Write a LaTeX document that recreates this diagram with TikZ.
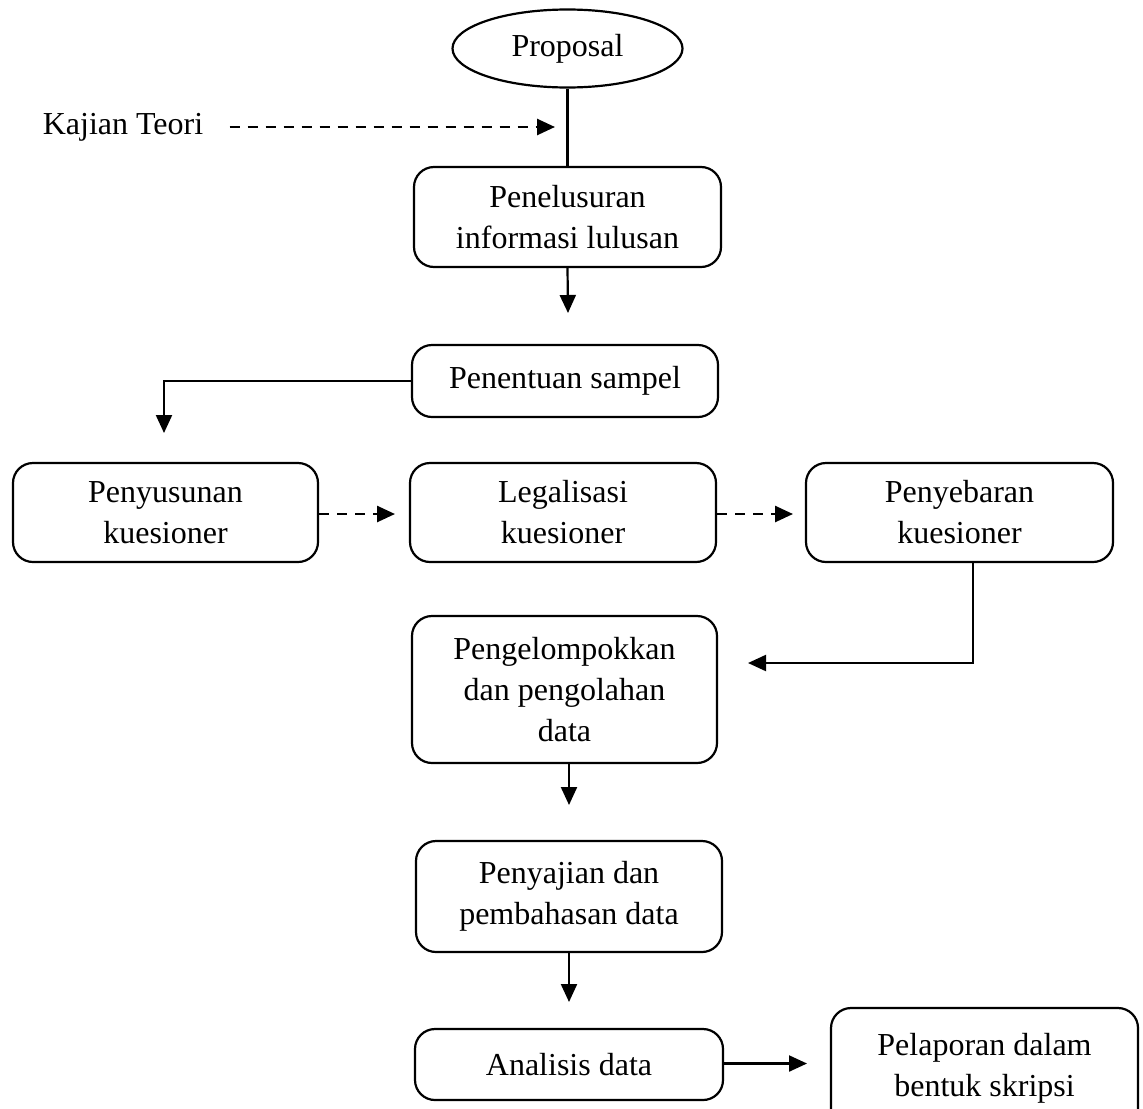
\documentclass[tikz,border=0pt]{standalone}
\usepackage{fontspec}
\setmainfont{Liberation Serif}
\usetikzlibrary{arrows.meta,shapes.geometric}
\begin{document}
\begin{tikzpicture}[x=0.5pt,y=-0.5pt,
  every node/.style={font=\fontsize{16}{20.5}\selectfont},
  line/.style={line width=1.1pt},
  box/.style={draw, line width=1.1pt, rounded corners=10pt, align=center, inner sep=0pt},
  arr/.style={line width=1.1pt, -{Triangle[length=9pt,width=8pt]}},
  darr/.style={line width=1.3pt, dash pattern=on 5pt off 4pt, -{Triangle[length=9pt,width=8pt]}}]
\clip (0,0) rectangle (1143,1108);
\fill[white] (0,0) rectangle (1143,1108);

\node[draw, ellipse, line width=1.1pt, inner sep=0pt, minimum width=115pt, minimum height=39pt] (prop) at (567.5,48.5) {Proposal};
\node[inner sep=0pt] (kaj) at (123,127) {Kajian Teori};
\coordinate (kt) at (555,127);
\node[box, minimum width=153.5pt, minimum height=50pt] (pen) at (567.5,217) {Penelusuran\\informasi lulusan};
\coordinate (a1) at (568,313);
\node[box, minimum width=153pt, minimum height=36pt] (samp) at (565,381) {Penentuan sampel};
\coordinate (c1) at (164,381);
\coordinate (a2) at (164,433);
\node[box, minimum width=152.5pt, minimum height=49.5pt] (sus) at (165.5,512.5) {Penyusunan\\kuesioner};
\node[box, minimum width=153pt, minimum height=49.5pt] (leg) at (563,512.5) {Legalisasi\\kuesioner};
\node[box, minimum width=153.5pt, minimum height=49.5pt] (seb) at (959.5,512.5) {Penyebaran\\kuesioner};
\coordinate (d1) at (395,514);
\coordinate (d2) at (793,514);
\coordinate (c2) at (973,663);
\coordinate (a3) at (748,663);
\node[box, minimum width=152.5pt, minimum height=73.5pt] (kel) at (564.5,689.5) {Pengelompokkan\\dan pengolahan\\data};
\coordinate (a4) at (569,805);
\node[box, minimum width=153pt, minimum height=55.5pt] (saj) at (569,896.5) {Penyajian dan\\pembahasan data};
\coordinate (a5) at (569,1002);
\node[box, minimum width=154pt, minimum height=35.5pt] (ana) at (569,1064.5) {Analisis data};
\coordinate (a6) at (807,1063.5);
\node[box, minimum width=153.5pt, minimum height=60pt] (lap) at (984.5,1068) {Pelaporan dalam\\bentuk skripsi};

\draw[line] (prop.south) -- (pen.north);
\draw[darr] ([xshift=13pt]kaj.east) -- (kt);
\draw[arr] (pen.south) -- (a1);
\draw[arr] (samp.west) -- (c1) -- (a2);
\draw[darr] (sus.east |- d1) -- (d1);
\draw[darr] (leg.east |- d2) -- (d2);
\draw[arr] (seb.south -| c2) -- (c2) -- (a3);
\draw[arr] (kel.south -| a4) -- (a4);
\draw[arr] (saj.south -| a5) -- (a5);
\draw[arr] (ana.east |- a6) -- (a6);
\end{tikzpicture}
\end{document}
